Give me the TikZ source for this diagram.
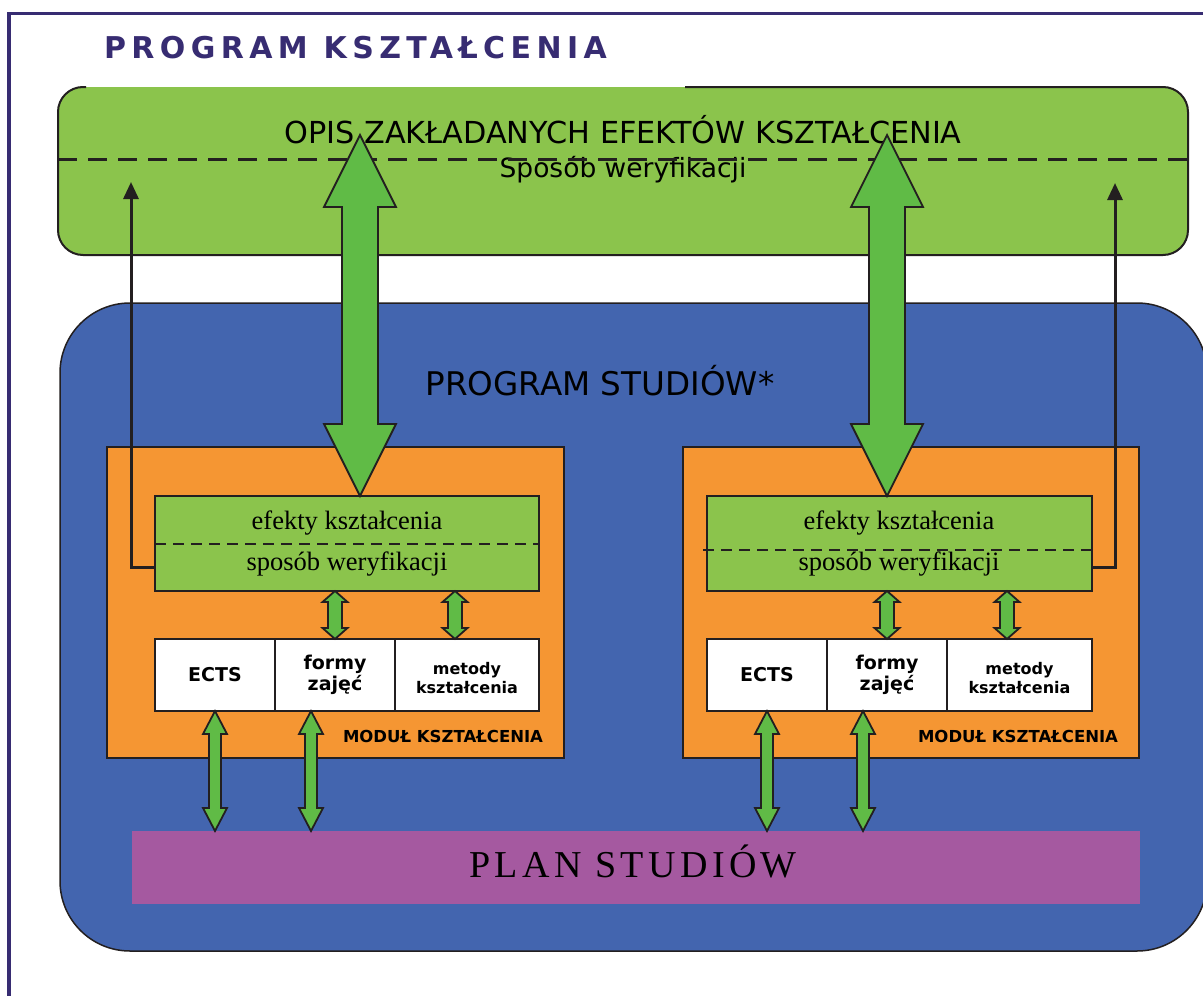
\documentclass[tikz,border=0pt]{standalone}
\usepackage{fontspec}
\setmainfont{Liberation Serif}
\newfontfamily\dv{DejaVu Sans}
\newfontfamily\titlefont[LetterSpace=18]{DejaVu Sans}
\newfontfamily\planfont[LetterSpace=11.5]{Liberation Serif}
\usetikzlibrary{arrows.meta,calc}
\definecolor{framec}{RGB}{55,44,114}
\definecolor{dark}{RGB}{35,31,32}
\definecolor{lgreen}{RGB}{139,196,76}
\definecolor{agreen}{RGB}{96,187,70}
\definecolor{bluec}{RGB}{67,101,175}
\definecolor{orangec}{RGB}{245,150,51}
\definecolor{purplec}{RGB}{165,89,160}
\tikzset{
 lbl/.style={inner sep=0pt, outer sep=0pt, anchor=base},
 modbox/.style={draw=dark, line width=2pt, fill=orangec, inner sep=0pt, outer sep=0pt, minimum height=311pt},
 efbox/.style={draw=dark, line width=2.5pt, fill=lgreen, inner sep=0pt, outer sep=0pt, minimum height=95pt},
 cell/.style={draw=dark, line width=2pt, fill=white, inner sep=0pt, outer sep=0pt, minimum height=72pt, align=center, font=\dv\bfseries\fontsize{19}{21}\selectfont},
 mettext/.style={inner sep=0pt, outer sep=0pt, align=center, font=\dv\bfseries\fontsize{16}{18.5}\selectfont},
 blockarrow/.style={draw=dark, line width=1.8pt, fill=agreen, line join=miter},
 thinarrow/.style={draw=dark, line width=3pt, -{Triangle[length=17pt,width=15pt]}},
 dashline/.style={draw=dark, line width=2pt, dash pattern=on 11pt off 7pt},
 bigdash/.style={draw=dark, line width=3pt, dash pattern=on 19pt off 11pt},
 framel/.style={draw=framec, line width=3.5pt},
}
\newcommand\blockarr[5]{%
 \path[blockarrow] let \p1=#1, \p2=#2 in
 (\x1,\y1) -- (\x1+#4,\y1-#5) -- (\x1+#3,\y1-#5) -- (\x1+#3,\y2+#5) -- (\x1+#4,\y2+#5)
 -- (\x1,\y2) -- (\x1-#4,\y2+#5) -- (\x1-#3,\y2+#5) -- (\x1-#3,\y1-#5) -- (\x1-#4,\y1-#5) -- cycle;}
\begin{document}
\begin{tikzpicture}[x=1pt,y=-1pt]
\useasboundingbox (0,0) rectangle (1203,996);
\clip (0,0) rectangle (1203,996);
\fill[white] (0,0) rectangle (1203,996);
% frame
\coordinate (fTL) at (9,13.5);
\coordinate (fTR) at (1210,13.5);
\coordinate (fBL) at (9,1000);
\draw[framel] (fTR) -- (fTL) -- (fBL);
\node[lbl, anchor=base west, text=framec, font=\titlefont\bfseries\fontsize{30}{35}\selectfont] (title) at (104,58) {PROGRAM KSZTAŁCENIA};
% top green box
\node[fill=lgreen, rounded corners=25pt, minimum width=1130pt, minimum height=168pt, inner sep=0pt, outer sep=0pt] (opis) at (623,171) {};
\node[lbl, font=\dv\fontsize{30.3}{36}\selectfont] (opistxt) at (623,143) {OPIS ZAKŁADANYCH EFEKTÓW KSZTAŁCENIA};
\node[lbl, font=\dv\fontsize{26.5}{31}\selectfont] (sposob) at (623,177) {Sposób weryfikacji};
\draw[bigdash] ($(opis.west)+(0,-12)$) -- ($(opis.east)+(0,-12)$);
\draw[dark, line width=2pt, rounded corners=25pt] (685,87) -- (1188,87) -- (1188,255) -- (58,255) -- (58,87) -- (86,87);
% blue box
\node[draw=dark, line width=1.5pt, fill=bluec, rounded corners=70pt, minimum width=1147pt, minimum height=648pt, inner sep=0pt, outer sep=0pt] (prog) at (633.5,627) {};
\node[lbl, font=\dv\fontsize{32.6}{38}\selectfont] (progtxt) at (600,395) {PROGRAM STUDIÓW*};
% left module
\node[modbox, minimum width=457pt] (modL) at (335.5,602.5) {};
\node[efbox, minimum width=384pt] (efL) at (347,543.5) {};
\draw[dashline] (efL.west) -- (efL.east);
\node[lbl, font=\fontsize{26.5}{32}\selectfont] (efL1) at (347,529) {efekty kształcenia};
\node[lbl, font=\fontsize{26.5}{32}\selectfont] (efL2) at (347,570) {sposób weryfikacji};
\node[cell, minimum width=120pt] (ectsL) at (215,675) {ECTS};
\node[cell, minimum width=120pt] (formyL) at (335,675) {formy\\zajęć};
\node[cell, minimum width=144pt] (metL) at (467,675) {};
\node[mettext] (metLt) at (467,678) {metody\\kształcenia};
\node[lbl, anchor=base east, font=\dv\bfseries\fontsize{16.5}{20}\selectfont] (modLt) at (543,742) {MODUŁ KSZTAŁCENIA};
% right module
\node[modbox, minimum width=456pt] (modR) at (911,602.5) {};
\node[efbox, minimum width=385pt] (efR) at (899.5,543.5) {};
\draw[dashline] ($(efR.west)+(-4,6.5)$) -- ($(efR.east)+(0,6.5)$);
\node[lbl, font=\fontsize{26.5}{32}\selectfont] (efR1) at (899,529) {efekty kształcenia};
\node[lbl, font=\fontsize{26.5}{32}\selectfont] (efR2) at (899,570) {sposób weryfikacji};
\node[cell, minimum width=120pt] (ectsR) at (767,675) {ECTS};
\node[cell, minimum width=120pt] (formyR) at (887,675) {formy\\zajęć};
\node[cell, minimum width=145pt] (metR) at (1019.5,675) {};
\node[mettext] (metRt) at (1019.5,678) {metody\\kształcenia};
\node[lbl, anchor=base east, font=\dv\bfseries\fontsize{16.5}{20}\selectfont] (modRt) at (1118,742) {MODUŁ KSZTAŁCENIA};
% plan
\node[fill=purplec, minimum width=1008pt, minimum height=73pt, inner sep=0pt, outer sep=0pt] (plan) at (636,867.5) {};
\node[lbl, font=\planfont\fontsize{38}{44}\selectfont] (plant) at (633,877) {PLAN STUDIÓW};
% thin arrows
\coordinate (tipL) at (131,182);
\coordinate (tipR) at (1115,183);
\draw[thinarrow] ($(efL.west)+(0,23.5)$) -| (tipL);
\draw[thinarrow] ($(efR.east)+(0,23.5)$) -| (tipR);
% big arrows
\coordinate (bigL) at (360,135);
\coordinate (bigR) at (887,135);
\blockarr{(bigL)}{(bigL |- efL.north)}{18pt}{36pt}{72pt}
\blockarr{(bigR)}{(bigR |- efR.north)}{18pt}{36pt}{72pt}
% small arrows in modules
\coordinate (smL) at ($(efL.south)+(108,0)$);
\coordinate (smR) at ($(efR.south)+(107.5,0)$);
\blockarr{(formyL.north |- efL.south)}{(formyL.north)}{7pt}{12.5pt}{11pt}
\blockarr{(smL)}{(smL |- metL.north)}{7pt}{12.5pt}{11pt}
\blockarr{(formyR.north |- efR.south)}{(formyR.north)}{7pt}{12.5pt}{11pt}
\blockarr{(smR)}{(smR |- metR.north)}{7pt}{12.5pt}{11pt}
% arrows to plan
\coordinate (fbL) at ($(formyL.south)+(-24,0)$);
\coordinate (fbR) at ($(formyR.south)+(-24,0)$);
\blockarr{(ectsL.south)}{(ectsL.south |- plan.north)}{6pt}{12pt}{23pt}
\blockarr{(fbL)}{(fbL |- plan.north)}{6pt}{12pt}{23pt}
\blockarr{(ectsR.south)}{(ectsR.south |- plan.north)}{6pt}{12pt}{23pt}
\blockarr{(fbR)}{(fbR |- plan.north)}{6pt}{12pt}{23pt}
\end{tikzpicture}
\end{document}
